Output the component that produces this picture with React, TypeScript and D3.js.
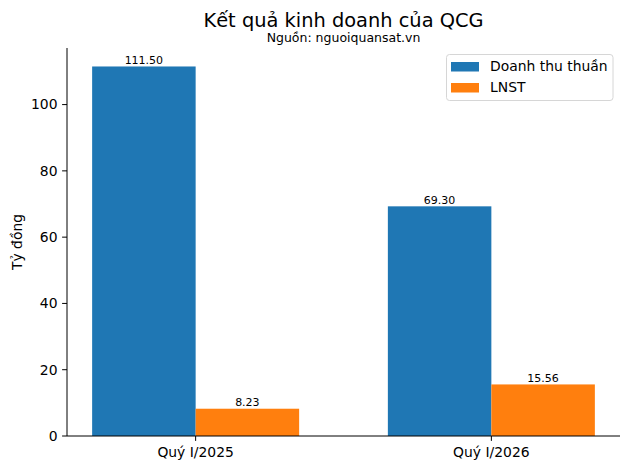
import React from "react";
import * as d3 from "d3";

const categories = ["Quý I/2025", "Quý I/2026"];
const seriesNames = ["Doanh thu thuần", "LNST"];
const revenue = [111.5, 69.3];
const profit = [8.23, 15.56];
const yTicks = [0, 20, 40, 60, 80, 100];
const colors = ["#1f77b4", "#ff7f0e"];

const W = 630, H = 470;
const left = 67, right = 620, top = 48, bottom = 436;

export default function App() {
  const series = [revenue, profit];
  const barW = 0.35;
  const x = d3.scaleLinear().domain([-0.435, 1.435]).range([left, right]);
  const y = d3.scaleLinear().domain([0, 111.5 * 1.05]).range([bottom, top]);
  const font = "DejaVu Sans, sans-serif";
  return (
    <svg width={W} height={H} style={{ position: "absolute", left: 0, top: 0, fontFamily: font }}>
      <rect width={W} height={H} fill="#fff" />
      {series.map((vals, si) =>
        vals.map((v, ci) => {
          const x0 = x(ci + (si === 0 ? -barW : 0));
          const x1 = x(ci + (si === 0 ? 0 : barW));
          return (
            <g key={`${si}-${ci}`}>
              <rect x={x0} y={y(v)} width={x1 - x0} height={bottom - y(v)} fill={colors[si]} />
              <text x={(x0 + x1) / 2} y={y(v) - 2.5} textAnchor="middle" fontSize={11} fill="#000">
                {v.toFixed(2)}
              </text>
            </g>
          );
        })
      )}
      <line x1={left} x2={left} y1={top} y2={bottom} stroke="#000" strokeWidth={1} />
      <line x1={left} x2={right} y1={bottom} y2={bottom} stroke="#000" strokeWidth={1} />
      {yTicks.map((t) => (
        <g key={t}>
          <line x1={left - 4.9} x2={left} y1={y(t)} y2={y(t)} stroke="#000" />
          <text x={left - 9.5} y={y(t)} dy="0.35em" textAnchor="end" fontSize={13.9}>
            {t}
          </text>
        </g>
      ))}
      {categories.map((c, i) => (
        <g key={c}>
          <line x1={x(i)} x2={x(i)} y1={bottom} y2={bottom + 4.9} stroke="#000" />
          <text x={x(i)} y={bottom + 21} textAnchor="middle" fontSize={13.9}>
            {c}
          </text>
        </g>
      ))}
      <text transform={`translate(22,${(top + bottom) / 2}) rotate(-90)`} textAnchor="middle" fontSize={13.9}>
        Tỷ đồng
      </text>
      <text x={(left + right) / 2} y={26.5} textAnchor="middle" fontSize={19.4}>
        Kết quả kinh doanh của QCG
      </text>
      <text x={(left + right) / 2} y={42} textAnchor="middle" fontSize={12.5}>
        Nguồn: nguoiquansat.vn
      </text>
      <g>
        <rect x={446.5} y={54.5} width={166.5} height={46} rx={3} fill="#fff" fillOpacity={0.8} stroke="#d6d6d6" />
        {seriesNames.map((n, i) => (
          <g key={n}>
            <rect x={451} y={62 + i * 21} width={28} height={9.5} fill={colors[i]} />
            <text x={490} y={66.5 + i * 21} dy="0.35em" fontSize={13.9}>
              {n}
            </text>
          </g>
        ))}
      </g>
    </svg>
  );
}
